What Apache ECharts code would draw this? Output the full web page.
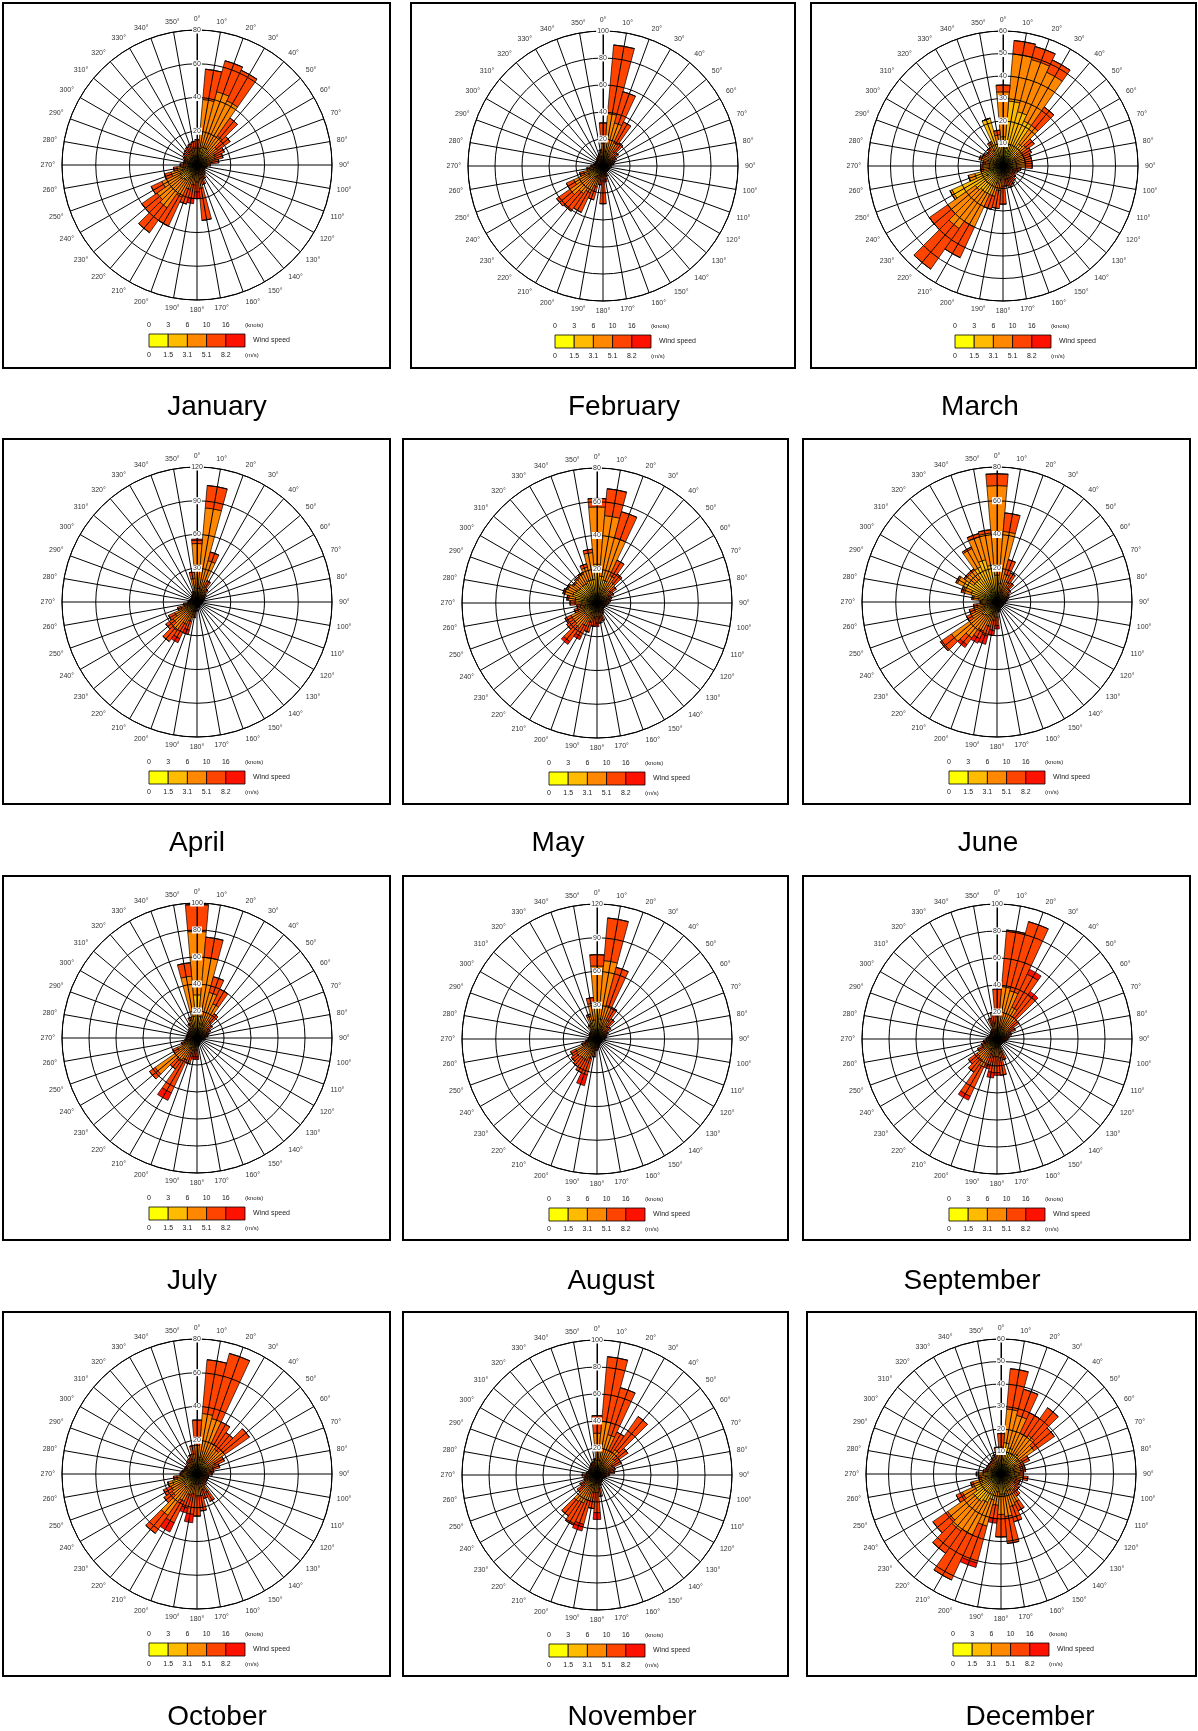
<!DOCTYPE html>
<html>
<head>
<meta charset="utf-8">
<script src="https://cdn.jsdelivr.net/npm/echarts@6/dist/echarts.min.js"></script>
<style>
  html, body { margin: 0; padding: 0; background: #fff; }
  #chart { width: 1198px; height: 1731px; }
</style>
</head>
<body>
<div id="chart"></div>
<script>
// wind directions (bar centres, degrees)
const directions = ['0', '10', '20', '30', '40', '50', '60', '70', '80', '90', '100', '110',
  '120', '130', '140', '150', '160', '170', '180', '190', '200', '210', '220', '230',
  '240', '250', '260', '270', '280', '290', '300', '310', '320', '330', '340', '350']

// speed classes, inner to outer
const speedNames = ['0-3 kn', '3-6 kn', '6-10 kn', '10-16 kn', '>16 kn']
const knotTicks = ['0', '3', '6', '10', '16']
const msTicks = ['0', '1.5', '3.1', '5.1', '8.2']

// one row per direction: counts per speed class
const jan = [[2,3,5,5,0],[3,7,29,18,0],[3,8,34,19,0],[3,8,31,20,0],[3,6,12,13,0],[2,5,8,9,0],
  [2,4,6,6,0],[2,4,5,5,0],[2,3,4,4,0],[1,2,3,2,0],[1,2,2,1,0],[1,2,1,1,0],
  [1,2,1,1,0],[1,2,2,1,0],[1,2,2,2,0],[1,2,3,3,0],[1,3,4,4,0],[2,4,8,19,0],
  [2,3,5,6,4],[2,4,6,8,3],[2,5,8,9,0],[3,6,12,19,0],[3,8,20,18,0],[3,9,17,11,0],
  [3,8,12,7,0],[3,6,7,4,0],[2,5,5,2,0],[2,3,3,2,0],[2,3,2,1,0],[2,3,2,1,0],
  [2,3,3,1,0],[2,3,3,2,0],[2,3,3,3,0],[2,3,4,3,0],[2,3,4,4,0],[2,3,5,4,0]]
const feb = [[2,5,10,15,0],[3,8,28,51,0],[3,6,24,24,0],[2,5,12,17,0],[2,4,7,8,0],[2,3,4,5,0],
  [1,3,3,4,0],[1,2,3,3,0],[1,2,3,2,0],[1,2,2,1,0],[1,2,1,1,0],[1,2,1,1,0],
  [1,2,1,1,0],[1,2,1,1,0],[1,2,1,1,0],[1,2,1,1,0],[1,2,2,3,0],[1,2,3,4,2],
  [2,3,6,17,0],[1,3,4,6,0],[2,5,9,10,0],[2,7,13,16,0],[2,8,15,16,0],[3,10,17,12,0],
  [3,9,12,6,0],[2,6,7,3,0],[2,4,4,2,0],[2,3,3,1,0],[2,2,2,1,0],[1,2,2,1,0],
  [1,2,2,1,0],[1,2,2,1,0],[1,2,2,2,0],[1,2,3,2,0],[2,3,2,2,0],[2,5,3,2,0]]
const mar = [[3,10,20,3,0],[8,21,21,6,0],[7,18,24,6,0],[6,16,24,6,0],[4,8,10,10,0],[3,5,5,4,0],
  [2,4,4,4,0],[2,4,4,3,0],[2,4,4,3,0],[2,4,4,3,0],[2,2,2,2,0],[1,2,2,2,0],
  [1,2,2,1,0],[1,2,2,2,0],[1,2,3,2,0],[1,2,3,3,0],[1,2,3,4,0],[1,2,3,3,0],
  [2,3,4,8,0],[2,4,5,8,0],[3,5,6,6,0],[4,10,16,15,0],[4,10,20,22,0],[5,10,15,10,0],
  [8,17,1,0,0],[5,8,3,0,0],[3,3,3,1,0],[3,3,3,1,0],[3,3,2,1,0],[3,4,3,1,0],
  [3,3,3,1,0],[3,3,2,1,0],[3,3,3,1,0],[3,5,3,1,0],[5,17,0,0,0],[3,6,5,2,0]]
const apr = [[4,8,40,3,1],[3,9,72,20,0],[3,8,27,8,0],[2,5,8,6,0],[2,4,5,3,0],[2,3,3,2,0],
  [1,3,2,2,0],[1,2,2,2,0],[1,2,2,1,0],[1,2,1,1,0],[1,2,1,1,0],[1,1,1,1,0],
  [1,1,1,1,0],[1,1,1,1,0],[1,1,1,1,0],[1,2,1,1,0],[1,2,1,1,0],[1,2,1,1,0],
  [1,2,2,3,0],[2,3,4,5,0],[3,5,10,8,4],[3,6,13,14,4],[3,8,20,12,0],[3,8,15,8,0],
  [3,7,12,6,0],[3,5,7,3,0],[2,4,4,2,0],[2,3,2,1,0],[2,2,2,1,0],[1,2,2,1,0],
  [1,2,2,1,0],[1,2,2,1,0],[1,2,3,1,0],[2,2,3,1,0],[2,3,3,2,0],[3,6,12,6,0]]
const may = [[5,18,34,5,0],[4,12,36,16,0],[4,10,26,16,0],[3,6,9,10,0],[3,5,7,6,0],[2,4,4,4,0],
  [2,3,3,3,0],[2,3,2,2,0],[2,2,2,2,0],[1,2,2,2,0],[1,2,2,1,0],[1,2,1,1,0],
  [1,2,1,1,0],[1,2,1,1,0],[1,2,2,1,0],[1,2,2,2,0],[2,3,3,3,0],[2,3,4,3,0],
  [2,3,3,4,2],[2,3,4,5,0],[2,4,6,6,0],[2,5,8,7,2],[3,6,9,10,2],[3,6,8,5,0],
  [3,6,8,4,0],[3,5,4,2,0],[3,4,3,2,0],[4,5,4,3,0],[5,8,4,1,0],[5,10,5,1,0],
  [5,9,5,1,0],[5,8,4,1,0],[5,8,5,1,0],[5,8,6,1,0],[4,10,8,2,0],[4,10,16,2,0]]
const jun = [[4,12,53,7,0],[3,8,31,11,0],[2,5,10,9,0],[2,4,7,6,0],[2,3,5,4,0],[2,3,3,2,0],
  [1,3,2,2,0],[1,2,2,2,0],[1,2,2,1,0],[1,2,1,1,0],[1,1,1,1,0],[1,1,1,1,0],
  [1,1,1,1,0],[1,1,1,1,0],[1,1,1,1,0],[1,1,1,1,0],[1,2,1,1,0],[1,2,2,1,0],
  [2,3,4,5,2],[2,4,5,6,3],[2,5,8,6,5],[3,6,10,5,3],[3,7,16,5,2],[3,8,22,8,0],
  [3,6,8,3,0],[3,5,6,3,0],[3,4,5,2,0],[3,3,3,1,0],[5,6,3,1,0],[6,10,5,1,0],
  [8,14,4,1,0],[6,11,6,1,0],[6,11,6,1,0],[7,16,12,1,0],[8,18,14,2,0],[6,16,19,2,0]]
const jul = [[6,26,47,20,0],[4,12,44,15,0],[3,8,24,12,0],[3,7,18,12,0],[2,5,8,7,0],[2,3,5,4,0],
  [2,3,3,3,0],[1,3,3,2,0],[1,2,3,2,0],[1,2,2,1,0],[1,2,1,1,0],[1,1,1,1,0],
  [1,1,1,1,0],[1,1,1,1,0],[1,1,1,1,0],[1,1,1,1,0],[1,2,1,1,0],[1,2,2,1,0],
  [2,3,4,5,2],[2,3,4,5,2],[2,4,6,8,0],[3,6,9,27,6],[3,6,12,7,0],[4,9,25,5,0],
  [3,5,8,4,0],[2,4,4,2,0],[2,3,3,1,0],[2,3,2,1,0],[2,3,2,1,0],[2,2,2,1,0],
  [2,3,2,1,0],[2,3,2,1,0],[2,3,3,1,0],[3,4,4,1,0],[3,6,5,2,0],[4,12,30,10,0]]
const aug = [[5,25,35,10,0],[4,14,52,38,0],[3,8,20,35,0],[3,6,10,12,0],[2,5,7,8,0],[2,3,5,5,0],
  [2,3,3,3,0],[1,3,3,2,0],[1,2,3,2,0],[1,2,2,2,0],[1,2,1,1,0],[1,2,1,1,0],
  [1,2,1,1,0],[1,2,1,1,0],[1,2,1,1,0],[1,2,1,1,0],[1,2,2,1,0],[1,2,3,2,0],
  [2,2,3,3,0],[2,3,5,6,0],[3,5,10,15,10],[3,6,12,12,0],[3,6,12,9,0],[3,7,12,6,0],
  [3,7,11,5,0],[2,4,5,3,0],[2,3,3,2,0],[2,3,2,1,0],[2,2,2,1,0],[2,2,2,1,0],
  [2,3,2,1,0],[2,3,2,1,0],[2,3,3,1,0],[4,6,3,1,0],[6,9,6,2,0],[5,12,15,5,0]]
const sep = [[2,5,10,20,0],[3,6,30,42,0],[3,6,28,53,0],[3,5,18,27,4],[3,5,12,20,3],[2,4,6,8,0],
  [2,3,5,5,0],[2,3,3,3,0],[1,2,3,3,0],[1,2,3,2,0],[1,2,2,2,0],[1,2,2,1,0],
  [1,2,1,1,0],[1,2,1,1,0],[1,2,1,1,0],[1,2,1,1,0],[2,3,5,6,0],[2,4,8,13,0],
  [2,4,7,12,2],[2,4,7,12,4],[2,4,6,9,2],[3,6,14,24,3],[3,6,10,11,0],[3,6,9,8,0],
  [2,4,6,4,0],[2,3,4,3,0],[2,3,3,2,0],[2,2,2,2,0],[1,2,2,2,0],[1,2,2,1,0],
  [1,2,2,1,0],[1,2,2,1,0],[1,2,2,2,0],[2,2,2,2,0],[2,4,5,5,0],[2,4,6,8,0]]
const oct = [[2,5,10,15,0],[3,7,26,32,0],[3,6,25,40,0],[3,5,12,14,0],[3,5,10,12,0],[3,5,12,18,0],
  [2,4,6,6,0],[2,3,5,4,0],[2,3,3,2,0],[1,2,3,3,0],[1,2,2,2,0],[1,2,2,2,0],
  [1,2,2,2,0],[1,2,2,2,0],[1,2,3,2,0],[2,4,6,6,0],[2,3,5,5,0],[2,4,7,9,0],
  [2,4,7,12,0],[2,4,6,12,5],[2,4,7,8,3],[3,5,10,14,6],[3,7,20,13,0],[3,6,9,6,0],
  [3,6,8,5,0],[6,9,3,0,0],[3,5,4,2,0],[2,4,3,1,0],[2,3,3,1,0],[2,3,2,1,0],
  [2,3,2,1,0],[2,3,2,1,0],[2,3,3,1,0],[2,3,3,2,0],[2,3,4,3,0],[2,4,6,5,0]]
const nov = [[3,8,20,13,0],[3,8,29,48,0],[3,6,22,36,0],[3,5,12,15,0],[3,5,15,30,0],[3,5,9,11,0],
  [2,4,7,7,0],[2,3,5,4,0],[2,3,4,4,0],[1,2,3,3,0],[1,2,2,2,0],[1,2,2,1,0],
  [1,2,1,1,0],[1,2,1,1,0],[1,2,2,1,0],[1,2,2,1,0],[1,2,3,2,0],[2,3,5,6,0],
  [2,4,7,15,5],[2,4,7,12,0],[3,5,12,18,5],[3,6,14,18,0],[3,7,14,13,0],[2,4,7,5,0],
  [2,4,5,3,0],[2,3,3,2,0],[2,3,2,2,0],[2,3,3,3,0],[2,2,2,2,0],[1,2,2,2,0],
  [1,2,2,2,0],[1,2,2,2,0],[1,2,3,2,0],[2,2,3,2,0],[2,3,3,2,0],[2,3,4,3,0]]
const dec = [[2,4,6,6,0],[4,10,15,18,0],[4,8,15,12,0],[3,7,10,10,0],[4,7,10,15,0],[3,6,9,11,0],
  [3,4,4,3,0],[3,3,3,2,0],[3,3,3,2,0],[3,3,2,2,0],[3,4,3,2,0],[2,3,2,2,0],
  [2,3,2,2,0],[2,3,3,2,0],[2,3,4,3,0],[3,5,6,4,0],[3,5,7,7,0],[3,6,10,12,0],
  [3,6,9,10,0],[3,5,6,6,2],[4,8,12,17,2],[4,10,16,22,0],[5,10,16,12,0],[5,10,14,8,0],
  [5,8,6,3,0],[4,5,4,1,0],[3,4,2,1,0],[4,4,2,1,0],[3,3,1,1,0],[2,2,2,1,0],
  [2,2,2,1,0],[2,2,2,1,0],[2,2,2,1,0],[2,2,3,1,0],[2,3,3,1,0],[2,3,4,3,0]]

const months = [jan, feb, mar, apr, may, jun, jul, aug, sep, oct, nov, dec]
const monthNames = ['January', 'February', 'March', 'April', 'May', 'June',
  'July', 'August', 'September', 'October', 'November', 'December']
const radiusMax = [80, 100, 60, 120, 80, 80, 100, 120, 100, 80, 100, 60]
const ringStep = [20, 20, 10, 30, 20, 20, 20, 30, 20, 20, 20, 10]

// layout of the page (pixels)
const colors = ['#FFFF00', '#FFBB00', '#FF8800', '#FF4400', '#FF1100']
const R = 135
const panels = [
  { frame: [3, 3, 390, 368], center: [197, 165], title: [217, 407] },
  { frame: [411, 3, 795, 368], center: [603, 166], title: [624, 407] },
  { frame: [811, 3, 1196, 368], center: [1003, 166], title: [980, 407] },
  { frame: [3, 439, 390, 804], center: [197, 602], title: [197, 843] },
  { frame: [403, 439, 788, 804], center: [597, 603], title: [558, 843] },
  { frame: [803, 439, 1190, 804], center: [997, 602], title: [988, 843] },
  { frame: [3, 876, 390, 1240], center: [197, 1038], title: [192, 1281] },
  { frame: [403, 876, 788, 1240], center: [597, 1039], title: [611, 1281] },
  { frame: [803, 876, 1190, 1240], center: [997, 1039], title: [972, 1281] },
  { frame: [3, 1312, 390, 1676], center: [197, 1474], title: [217, 1717] },
  { frame: [403, 1312, 788, 1676], center: [597, 1475], title: [632, 1717] },
  { frame: [807, 1312, 1196, 1676], center: [1001, 1474], title: [1030, 1717] }
]

const chart = echarts.init(document.getElementById('chart'))
const polar = []
const angleAxis = []
const radiusAxis = []
const series = []
const graphic = []
const font = '"Liberation Sans", Arial, sans-serif'

months.forEach((rows, i) => {
  const p = panels[i]
  const cx = p.center[0]
  const cy = p.center[1]
  // polar 2i: bars, polar 2i+1: grid drawn over them
  polar.push({ center: p.center, radius: R }, { center: p.center, radius: R })
  angleAxis.push({
    polarIndex: 2 * i,
    type: 'category',
    data: directions,
    startAngle: 95,
    clockwise: true,
    show: false
  }, {
    polarIndex: 2 * i + 1,
    type: 'value',
    min: 0,
    max: 360,
    interval: 10,
    startAngle: 90,
    clockwise: true,
    z: 10,
    axisLine: { lineStyle: { color: '#000', width: 1 } },
    axisTick: { show: false },
    axisLabel: {
      margin: 7,
      fontSize: 7,
      color: '#333',
      fontFamily: font,
      formatter: v => (v === 360 ? '' : v + '°')
    },
    splitLine: { show: true, lineStyle: { color: '#000', width: 1 } }
  })
  radiusAxis.push({
    polarIndex: 2 * i,
    type: 'value',
    min: 0,
    max: radiusMax[i],
    show: false
  }, {
    polarIndex: 2 * i + 1,
    type: 'value',
    min: 0,
    max: radiusMax[i],
    interval: ringStep[i],
    z: 11,
    axisLine: { show: true, lineStyle: { color: '#000', width: 1 } },
    axisTick: { show: false },
    axisLabel: {
      showMinLabel: false,
      margin: 0,
      align: 'center',
      verticalAlign: 'middle',
      fontSize: 7,
      color: '#333',
      fontFamily: font,
      backgroundColor: '#fff',
      padding: [0, 1]
    },
    splitLine: { show: true, lineStyle: { color: '#000', width: 1 } }
  })

  speedNames.forEach((name, k) => {
    series.push({
      type: 'bar',
      name: name,
      coordinateSystem: 'polar',
      polarIndex: 2 * i,
      stack: 'month' + i,
      barCategoryGap: '0%',
      silent: true,
      data: rows.map(r => r[k]),
      itemStyle: { color: colors[k], borderColor: '#000', borderWidth: 0.7 }
    })
  })

  // frame
  graphic.push({
    type: 'rect',
    silent: true,
    shape: { x: p.frame[0], y: p.frame[1], width: p.frame[2] - p.frame[0], height: p.frame[3] - p.frame[1] },
    style: { fill: 'none', stroke: '#000', lineWidth: 2 }
  })

  // speed legend
  const bx = cx - 48
  const by = cy + 169
  const bw = 19.2
  colors.forEach((c, k) => {
    graphic.push({
      type: 'rect',
      silent: true,
      shape: { x: bx + k * bw, y: by, width: bw, height: 13 },
      style: { fill: c, stroke: '#000', lineWidth: 0.8 }
    })
    graphic.push({
      type: 'text', silent: true,
      style: { text: knotTicks[k], x: bx + k * bw, y: cy + 160, textAlign: 'center', textVerticalAlign: 'middle', font: '7px ' + font, fill: '#222' }
    })
    graphic.push({
      type: 'text', silent: true,
      style: { text: msTicks[k], x: bx + k * bw, y: cy + 190, textAlign: 'center', textVerticalAlign: 'middle', font: '7px ' + font, fill: '#222' }
    })
  })
  graphic.push({
    type: 'text', silent: true,
    style: { text: '(knots)', x: bx + 5 * bw, y: cy + 160, textAlign: 'left', textVerticalAlign: 'middle', font: '6px ' + font, fill: '#222' }
  })
  graphic.push({
    type: 'text', silent: true,
    style: { text: '(m/s)', x: bx + 5 * bw, y: cy + 190, textAlign: 'left', textVerticalAlign: 'middle', font: '6px ' + font, fill: '#222' }
  })
  graphic.push({
    type: 'text', silent: true,
    style: { text: 'Wind speed', x: cx + 56, y: cy + 175, textAlign: 'left', textVerticalAlign: 'middle', font: '7px ' + font, fill: '#222' }
  })

  // month title
  graphic.push({
    type: 'text', silent: true,
    style: { text: monthNames[i], x: p.title[0], y: p.title[1], textAlign: 'center', textVerticalAlign: 'middle', font: '28px ' + font, fill: '#000' }
  })
})

chart.setOption({
  animation: false,
  textStyle: { fontFamily: font },
  polar: polar,
  angleAxis: angleAxis,
  radiusAxis: radiusAxis,
  series: series,
  graphic: graphic
})
</script>
</body>
</html>
